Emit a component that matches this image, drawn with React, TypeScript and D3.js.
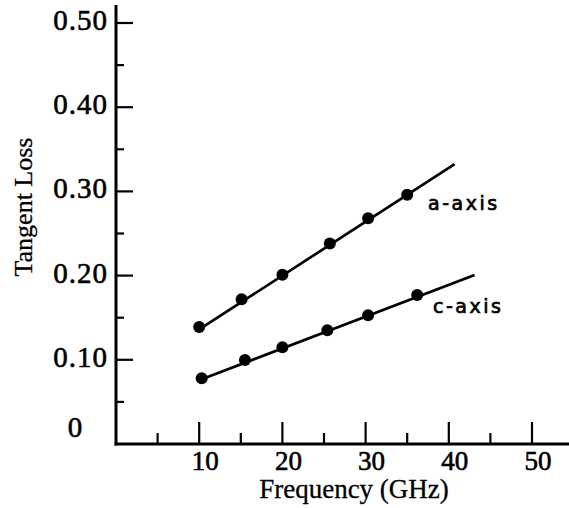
import React from "react";
import * as d3 from "d3";

const W = 569;
const H = 508;

const xTicksMajor = [10, 20, 30, 40, 50];
const xTicksMinor = [5, 15, 25, 35, 45];
const yTicksMajor = [0.1, 0.2, 0.3, 0.4, 0.5];
const yTicksMinor = [0.05, 0.15, 0.25, 0.35, 0.45];
const yTickLabels = ["0.10", "0.20", "0.30", "0.40", "0.50"];

const aFreq = [10, 15.1, 20, 25.7, 30.3, 35];
const aLoss = [0.139, 0.172, 0.201, 0.238, 0.268, 0.296];
const aFit = [[10, 0.136], [40.7, 0.3325]];

const cFreq = [10.3, 15.5, 20, 25.4, 30.3, 36.2];
const cLoss = [0.078, 0.0998, 0.115, 0.135, 0.153, 0.177];
const cFit = [[10.3, 0.077], [43.1, 0.2007]];

const seriesLabels = ["a-axis", "c-axis"];

export default function App() {
  const x = d3.scaleLinear().domain([0, 50]).range([116, 532]);
  const y = d3.scaleLinear().domain([0, 0.5]).range([444, 23]);
  const line = d3.line<number[]>().x((d) => x(d[0])).y((d) => y(d[1]));
  const serif = "'Liberation Serif', 'Times New Roman', serif";
  const hand = "'DejaVu Sans', sans-serif";
  const thick = { stroke: "#000", strokeWidth: 0.6 };

  return (
    <svg
      width={W}
      height={H}
      style={{ position: "absolute", left: 0, top: 0, background: "#fff" }}
    >
      {/* axes */}
      <line x1={x(0)} x2={x(0)} y1={5} y2={y(0) + 1.5} stroke="#000" strokeWidth={3} />
      <line x1={x(0) - 1.5} x2={569} y1={y(0)} y2={y(0)} stroke="#000" strokeWidth={3} />
      {yTicksMajor.map((t) => (
        <line key={"ym" + t} x1={x(0)} x2={x(0) + 17} y1={y(t)} y2={y(t)} stroke="#000" strokeWidth={2.2} />
      ))}
      {yTicksMinor.map((t) => (
        <line key={"yn" + t} x1={x(0)} x2={x(0) + 8} y1={y(t)} y2={y(t)} stroke="#000" strokeWidth={2.2} />
      ))}
      {xTicksMajor.map((t) => (
        <line key={"xm" + t} x1={x(t)} x2={x(t)} y1={y(0)} y2={y(0) - 22} stroke="#000" strokeWidth={2.2} />
      ))}
      {xTicksMinor.map((t) => (
        <line key={"xn" + t} x1={x(t)} x2={x(t)} y1={y(0)} y2={y(0) - 11} stroke="#000" strokeWidth={2.2} />
      ))}
      {/* y tick labels */}
      {yTicksMajor.map((t, i) => (
        <text
          key={"yl" + t}
          x={108}
          y={y(t) + 7}
          textAnchor="end"
          fontFamily={serif}
          fontSize={29}
          letterSpacing={1}
          {...thick}
        >
          {yTickLabels[i]}
        </text>
      ))}
      <text x={75} y={437} textAnchor="middle" fontFamily={serif} fontSize={29} {...thick}>
        0
      </text>
      {/* x tick labels */}
      {xTicksMajor.map((t) => (
        <text
          key={"xl" + t}
          x={x(t) + 6}
          y={470}
          textAnchor="middle"
          fontFamily={serif}
          fontSize={27}
          {...thick}
        >
          {t}
        </text>
      ))}
      <text x={354} y={498} textAnchor="middle" fontFamily={serif} fontSize={27} stroke="#000" strokeWidth={0.3}>
        Frequency (GHz)
      </text>
      <text
        transform="translate(32,207) rotate(-90)"
        textAnchor="middle"
        fontFamily={serif}
        fontSize={26}
        stroke="#000"
        strokeWidth={0.3}
      >
        Tangent Loss
      </text>
      {/* fit lines */}
      <path d={line(aFit) || ""} fill="none" stroke="#000" strokeWidth={2.7} />
      <path d={line(cFit) || ""} fill="none" stroke="#000" strokeWidth={2.7} />
      {/* points */}
      {aFreq.map((f, i) => (
        <circle key={"a" + i} cx={x(f)} cy={y(aLoss[i])} r={6} fill="#000" />
      ))}
      {cFreq.map((f, i) => (
        <circle key={"c" + i} cx={x(f)} cy={y(cLoss[i])} r={6} fill="#000" />
      ))}
      {/* series labels */}
      <text x={428} y={210} fontFamily={hand} fontSize={19} letterSpacing={2.5} stroke="#000" strokeWidth={0.7}>
        {seriesLabels[0]}
      </text>
      <text x={433} y={313} fontFamily={hand} fontSize={19} letterSpacing={2.5} stroke="#000" strokeWidth={0.7}>
        {seriesLabels[1]}
      </text>
    </svg>
  );
}
